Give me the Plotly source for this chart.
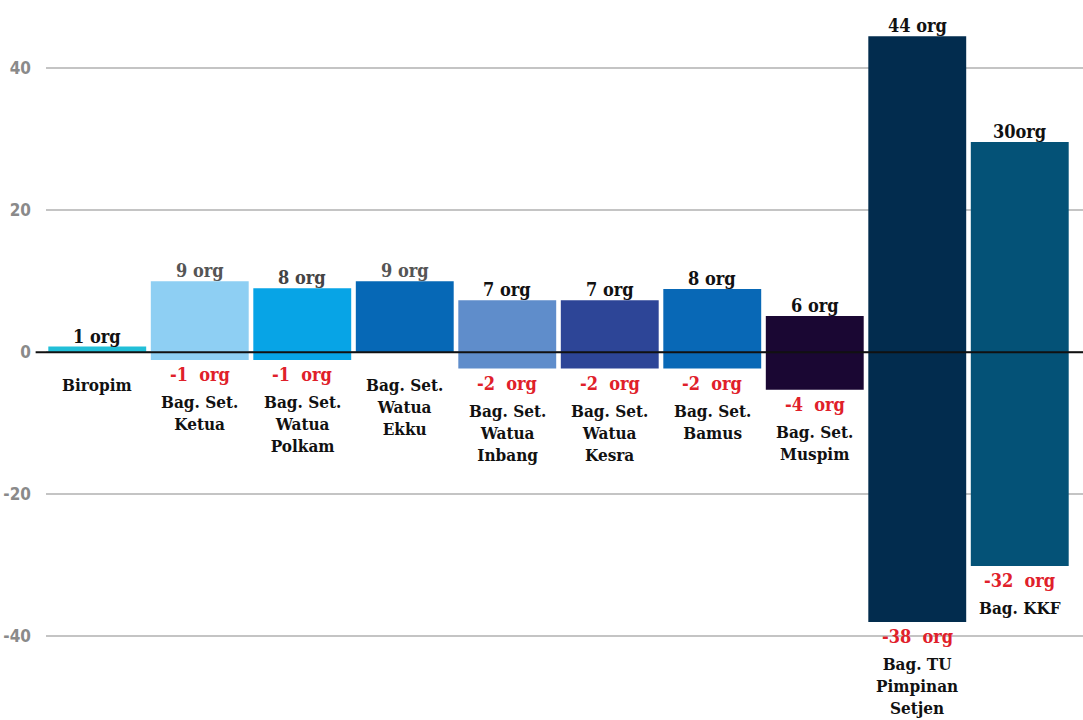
import plotly.graph_objects as go

categories = ["Biropim", "Bag. Set.<br>Ketua", "Bag. Set.<br>Watua<br>Polkam", "Bag. Set.<br>Watua<br>Ekku",
              "Bag. Set.<br>Watua<br>Inbang", "Bag. Set.<br>Watua<br>Kesra", "Bag. Set.<br>Bamus",
              "Bag. Set.<br>Muspim", "Bag. TU<br>Pimpinan<br>Setjen", "Bag. KKF"]
pos_values = [0.8, 10, 9, 10, 7.3, 7.3, 8.9, 5.1, 44.5, 29.6]
neg_values = [0, -1.1, -1.1, 0, -2.3, -2.3, -2.3, -5.3, -38, -30.1]
pos_labels = ["1 org", "9 org", "8 org", "9 org", "7 org", "7 org", "8 org", "6 org", "44 org", "30org"]
neg_labels = ["", "-1 org", "-1 org", "", "-2 org", "-2 org", "-2 org", "-4 org", "-38 org", "-32 org"]
y_ticks = [-40, -20, 0, 20, 40]

colors = ["#22bfd8", "#8ecff3", "#07a4e6", "#0668b6", "#5f8dcb", "#2d4597",
          "#0868b6", "#1a0733", "#022c4e", "#045277"]
pos_label_colors = ["#111", "#555", "#444", "#555", "#111", "#111", "#111", "#111", "#111", "#111"]

SERIF = "DejaVu Serif Condensed, DejaVu Serif, serif"
x = list(range(len(categories)))

fig = go.Figure()
fig.add_bar(x=x, y=pos_values, marker=dict(color=colors, line=dict(width=0)), hoverinfo="skip")
fig.add_bar(x=x, y=neg_values, marker=dict(color=colors, line=dict(width=0)), hoverinfo="skip")

for i in x:
    fig.add_annotation(x=i, y=pos_values[i], text=pos_labels[i], showarrow=False,
                       yanchor="bottom", yshift=-2,
                       font=dict(family=SERIF, size=18, color=pos_label_colors[i], weight="bold"))
    if neg_labels[i]:
        fig.add_annotation(x=i, y=neg_values[i], text=neg_labels[i].replace(" ", "&nbsp;&nbsp;"),
                           showarrow=False, yanchor="top", yshift=-2,
                           font=dict(family=SERIF, size=18, color="#e0202a", weight="bold"))
        shift = -30
    else:
        shift = -21
    fig.add_annotation(x=i, y=neg_values[i], text=categories[i], showarrow=False,
                       yanchor="top", yshift=shift,
                       font=dict(family=SERIF, size=17, color="#111", weight="bold"))

fig.add_shape(type="line", xref="paper", yref="y", x0=-0.01, x1=1, y0=0, y1=0,
              line=dict(color="#111", width=2), layer="above")

fig.update_layout(
    width=1083, height=720,
    margin=dict(l=46, r=0, t=0, b=0),
    paper_bgcolor="white", plot_bgcolor="white",
    barmode="relative", bargap=0.045, showlegend=False,
    xaxis=dict(range=[-0.5, 9.617], showticklabels=False, showgrid=False, zeroline=False),
    yaxis=dict(range=[-51.8, 49.6], tickvals=y_ticks, ticktext=[str(v) for v in y_ticks],
               showgrid=True, gridcolor="#c4c4c4", gridwidth=2, zeroline=False,
               ticklabelstandoff=14,
               tickfont=dict(family="DejaVu Sans Condensed, DejaVu Sans, sans-serif", size=17,
                             color="#8a8a8a", weight="bold")),
)

fig.write_html("out.html")
